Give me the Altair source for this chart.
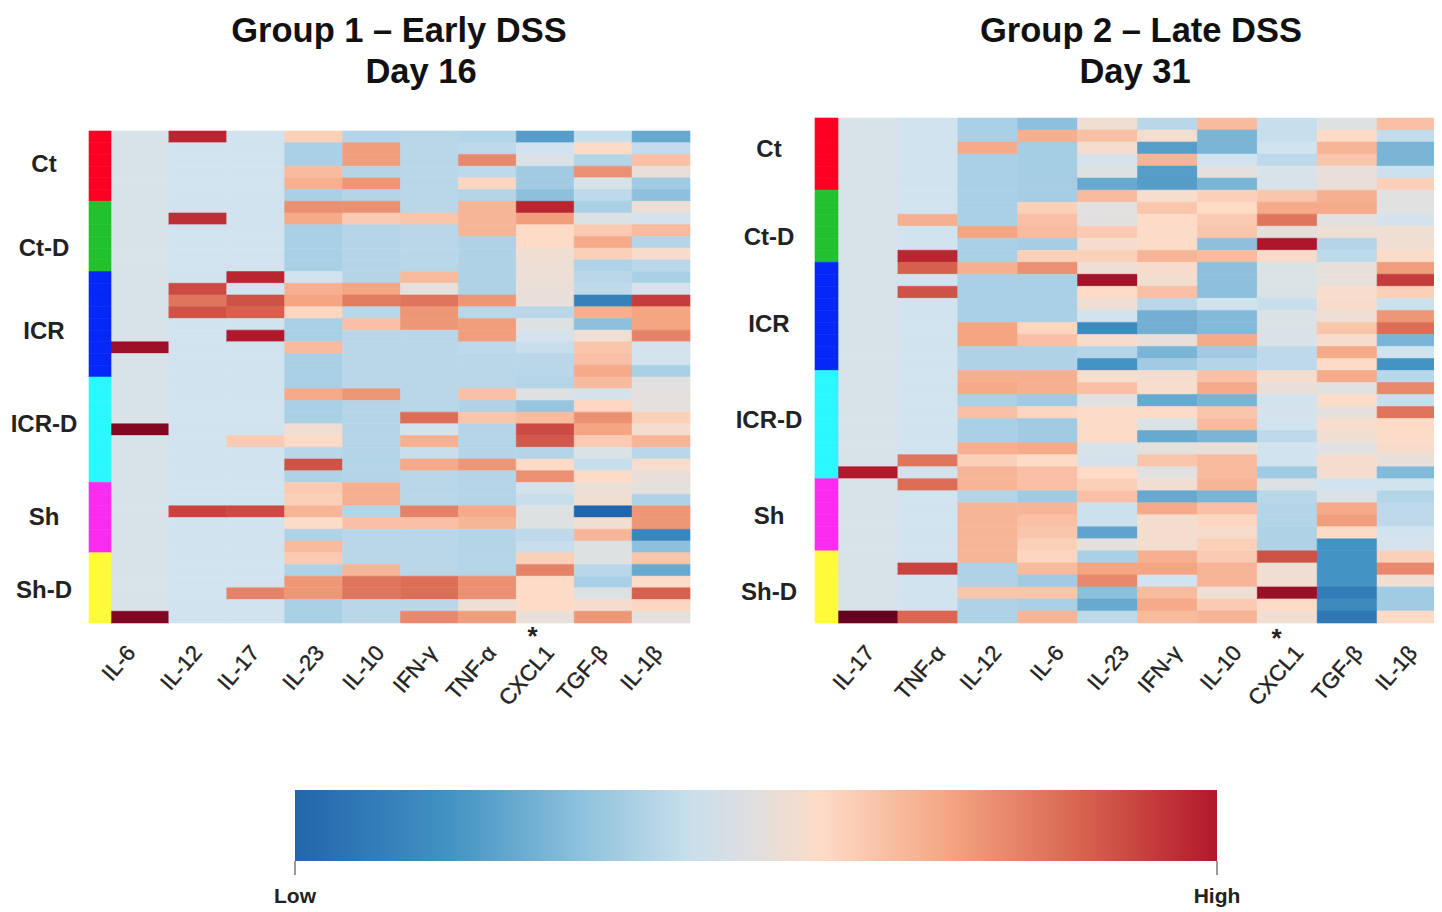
import altair as alt
import pandas as pd

GROUPS = ["Ct", "Ct-D", "ICR", "ICR-D", "Sh", "Sh-D"]
GROUP_SIZES = [6, 6, 9, 9, 6, 6]
GROUP_COLORS = ["#fe0023", "#22c12f", "#0527f8", "#29f8ff", "#fb2bef", "#fffb38"]

# ---- Group 1 (left panel); each list holds 42 rows top to bottom
L_COLS = ["IL-6", "IL-12", "IL-17", "IL-23", "IL-10", "IFN-γ", "TNF-α", "CXCL1", "TGF-β", "IL-1β"]
L_IL6 = [-.7,-.7,-.7,-.7,-.7,-.7, -.7,-.7,-.7,-.7,-.7,-.7, -.7,-.7,-.7,-.7,-.7,-.7,4.5,-.7,-.7,
         -.7,-.7,-.7,-.7,5,-.7,-.7,-.7,-.7, -.7,-.7,-.7,-.7,-.7,-.7, -.7,-.7,-.7,-.7,-.7,5]
L_IL12 = [3.8,-1,-1,-1,-1,-1, -1,3.7,-1,-1,-1,-1, -1,3.3,2.7,3.2,-1,-1,-1,-1,-1,
          -1,-1,-1,-1,-1,-1,-1,-1,-1, -1,-1,3.4,-1,-1,-1, -1,-1,-1,-1,-1,-1]
L_IL17 = [-1,-1,-1,-1,-1,-1, -1,-1,-1,-1,-1,-1, 3.8,-1,3.2,3,-1,4,-1,-1,-1,
          -1,-1,-1,-1,-1,1.3,-1,-1,-1, -1,-1,3.3,-1,-1,-1, -1,-1,-1,2.5,-1,-1]
L_IL23 = [1.2,-1.8,-1.8,1.6,1.8,-1.8, 2.3,1.9,-1.8,-1.8,-1.8,-1.8, -1,1.8,2.0,1.1,-1.8,-1.8,1.6,-1.8,-1.8,
          -1.8,1.9,-1.8,-1.8,.5,1,-1.5,3.2,-1.7, 1.3,1.2,1.7,.9,-1.7,1.6, 1.3,-1.7,2.2,2.2,-1.8,-1.8]
L_IL10 = [-1.6,2.1,2.1,-1.6,2.2,-1.6, 2.3,1.3,-1.6,-1.6,-1.6,-1.6, -1.6,2,2.6,-1.5,1.5,-1.5,-1.5,-1.5,-1.5,
          -1.5,2.2,-1.6,-1.6,-1.6,-1.6,-1.6,-1.6,-1.6, 1.8,1.8,-1.6,1.5,-1.5,-1.5, -1.5,1.7,2.7,2.7,-1.5,-1.5]
L_IFN = [-1.5,-1.5,-1.5,-1.5,-1.5,-1.5, -1.5,1.4,-1.5,-1.5,-1.5,-1.5, 1.6,0,2.7,2.2,2.2,-1.5,-1.5,-1.5,-1.5,
         -1.5,-1.5,-1.5,2.8,-1,1.8,-1.2,1.9,-1.5, -1.5,-1.5,2.5,1.5,-1.5,-1.5, -1.5,-1.5,2.8,2.8,-1.5,2.4]
L_TNF = [-1.6,-1.4,2.4,-1.4,1.1,-1.6, 1.7,1.7,1.7,-1.7,-1.7,-1.7, -1.7,-1.7,2.2,-1.5,2.1,2.1,-1.4,-1.5,-1.5,
         -1.5,1.5,-1.7,1.4,-1.6,-1.6,-1.6,2.2,-1.6, -1.6,-1.6,1.9,1.7,-1.6,-1.6, -1.6,-1.6,2.3,2.3,.3,2.1]
L_CXCL1 = [-2.8,-1,-.5,-2,-2,-2.2, 3.8,2.1,1,1,.5,.3, .3,.2,.1,-1.5,-.3,-.8,-1.2,-1.5,-1.5,
           -1.6,-.3,-2.1,1.6,3.3,3.1,-1.6,1,2.3, -.8,-1.2,-.3,-.3,-1.4,-1.2, 1.2,2.5,1,1,1,.1]
L_TGF = [-1.2,1,-1.6,2.3,-.7,-1.4, -1.8,-.5,1.3,1.9,1.2,-1.7, -1.5,-1.4,-3.4,1.8,-2.2,.5,1.4,1.5,1.9,
         1.6,-.8,1.1,2.3,2,1.3,-.5,-1.2,1, .3,.5,-4,.5,1.7,-.3, -.3,-1.5,-1.8,-.4,.6,2.2]
L_IL1B = [-2.6,-1.3,1.5,.2,-2,-2.2, .3,-.8,1.6,-1.6,.8,-1.5, -1.8,-.8,3.5,2,2,2.5,-.8,-.9,-1.8,
          -.2,0,0,1.2,.6,1.7,-1.5,.7,.2, 0,-1.7,2.2,2.2,-3.3,-2.2, 1.4,-2.6,1,3,1.1,0]
L_DATA = [L_IL6, L_IL12, L_IL17, L_IL23, L_IL10, L_IFN, L_TNF, L_CXCL1, L_TGF, L_IL1B]
L_TICK_POS = [.35, 1.5, 2.49, 3.61, 4.65, 5.56, 6.58, 7.58, 8.51, 9.45]
L_GROUP_POS = [2.9, 10.1, 17.2, 25.1, 33.0, 39.3]
L_TITLE_X = [391, 413]

# ---- Group 2 (right panel)
R_COLS = ["IL-17", "TNF-α", "IL-12", "IL-6", "IL-23", "IFN-γ", "IL-10", "CXCL1", "TGF-β", "IL-1β"]
R_IL17 = [-.7,-.7,-.7,-.7,-.7,-.7, -.7,-.7,-.7,-.7,-.7,-.7, -.7,-.7,-.7,-.7,-.7,-.7,-.7,-.7,-.7,
          -.7,-.7,-.7,-.7,-.7,-.7,-.7,-.7,4, -.7,-.7,-.7,-.7,-.7,-.7, -.7,-.7,-.7,-.7,-.7,5.5]
R_TNF = [-1,-1,-1,-1,-1,-1, -1,-1,1.8,-1,-1,3.8, 3,-1,3.2,-1,-1,-1,-1,-1,-1,
         -1,-1,-1,-1,-1,-1,-1,2.7,-.8, 2.8,-1,-1,-1,-1,-1, -1,3.4,-1,-1,-1,2.9]
R_IL12 = [-1.8,-1.8,1.9,-1.8,-1.8,-1.8, -1.8,-1.8,-1.8,2,-1.8,-1.8, 1.8,-1.8,-1.8,-1.8,-1.8,2,2,-1.7,-1.7,
          1.8,1.9,-1.8,1.5,-1.8,-1.8,1.8,1.2,1.7, 1.7,-1.6,1.7,1.7,1.7,1.7, 1.7,-1.7,-1.7,1.4,-1.7,-1.7]
R_IL6 = [-2.2,1.8,-1.9,-1.9,-1.9,-1.9, -1.9,1.2,1.5,1.6,-1.9,1.2, 2.3,-1.8,-1.8,-1.8,-1.8,1.1,1.5,-1.7,-1.7,
         1.8,1.8,-2,1.1,-2,-2,1.9,1,1.5, 1.5,-2,1.7,1.5,1.4,1.2, 1.1,1.6,-2,1.4,-1.8,1.7]
R_IL23 = [.5,1.5,.6,-.8,-.3,-2.6, 1.6,-.2,-.1,1.3,.6,1.2, .4,4.3,1,.4,-1,-3.2,.8,-1.6,-3,
          .7,1.5,-.2,.9,.9,.9,-.7,-.8,1, 1.2,1.5,-1.1,-1.1,-2.7,0, -1.8,2,2.4,-2.2,-2.6,-1.4]
R_IFN = [-1.5,.6,-2.8,1.7,-2.8,-2.8, .7,1.4,1,.9,.9,1.7, .8,.6,1.5,-1.5,-2.5,-2.5,.2,-2.4,-2,
         .6,.7,-2.6,.9,-.5,-2.6,0,1.4,-.2, .5,-2.6,1.9,.6,.6,.6, 1.8,2,-1,1.6,1.9,1.6]
R_IL10 = [1.6,-2.4,-2.4,-1,0,-2.4, 1.2,1,1.3,1.4,-2.2,1.6, -2.2,-2.2,-2.2,-1,-2.3,-2.3,1.9,-2,-1.6,
          1.5,1.9,-2.4,1.4,1.6,-2.4,.2,1.6,1.6, 1.7,-2.4,1.5,1.1,.8,1.2, 1.3,1.7,1.7,.4,1.3,1.7]
R_CXCL1 = [-1.2,-1.2,-1,-1.4,-.7,-.7, 1.4,1.9,2.7,0,4.1,.8, -.5,-.5,-.5,-1.2,-.5,-.5,-.6,-1.4,-1.4,
           .6,.2,-.9,-.8,-1,-1.4,-1,-1,-2, -.4,-1.5,-1.6,-1.6,-1.7,-1.7, 3.2,.5,.5,4.5,1,.5]
R_TGF = [-.3,1,1.7,1.4,.2,.2, 1.8,1.9,-.2,.4,-1.6,-1.4, .1,.1,.7,.8,.4,1.4,.8,1.9,1,
         1.9,-.2,.9,0,.7,.5,-.2,.6,.6, -1,-.5,1.9,2.1,1,-3, -3,-3,-3,-3.5,-3.2,-3.6]
R_IL1B = [1.5,-1.3,-2.4,-2.4,-1.1,1.2, -.2,-.2,-.8,.4,.5,.9, 2.1,3.5,1.2,-1.1,2.2,2.8,-2.4,-1,-3,
          -1.5,2.4,-1.2,2.7,1,.9,.8,.1,-2.3, -1,-1.6,-1.4,-1.4,-1,-.8, 1.2,2.4,.5,-2,-2,1]
R_DATA = [R_IL17, R_TNF, R_IL12, R_IL6, R_IL23, R_IFN, R_IL10, R_CXCL1, R_TGF, R_IL1B]
R_TICK_POS = [.54, 1.72, 2.66, 3.7, 4.79, 5.67, 6.67, 7.7, 8.69, 9.6]
R_GROUP_POS = [2.7, 9.95, 17.2, 25.2, 33.2, 39.5]
R_TITLE_X = [1133, 1127]

VALUE_STOPS = [-4, -3, -2, -1, 0, 1, 2, 3, 4, 5.5]
COLOR_STOPS = ["#2166ac", "#4393c3", "#a0cbe2", "#d1e3ef", "#e4e0dc", "#fddbc7", "#f4a582", "#d6604d", "#b2182b", "#67001f"]

FONT = "Liberation Sans"
SEAM_WIDTH = 0.6
PAGE_W, PAGE_H = 1426, 899


def panel(cols, data, tick_pos, group_pos, title, title_x, xr, yr, bar_r, group_x, star_pos, tick_y, star_y):
    rows = []
    row_group = [g for g, n in zip(GROUPS, GROUP_SIZES) for _ in range(n)]
    for c, vals in zip(cols, data):
        assert len(vals) == 42, c
        for i, v in enumerate(vals):
            rows.append({"col": c, "row": i, "v": v})
    heat_df = pd.DataFrame(rows)
    ann_df = pd.DataFrame({"row": list(range(42)), "group": row_group})
    row_order = list(range(42))
    x_s = alt.Scale(domain=cols, range=xr)
    y_s = alt.Scale(domain=row_order, range=yr)
    col_s = alt.Scale(domain=VALUE_STOPS, range=COLOR_STOPS, interpolate="rgb")
    grp_s = alt.Scale(domain=GROUPS, range=GROUP_COLORS)

    heat = alt.Chart(heat_df).mark_rect(strokeWidth=SEAM_WIDTH).encode(
        x=alt.X("col:N", scale=x_s, axis=None, sort=cols),
        y=alt.Y("row:O", scale=y_s, axis=None, sort=row_order),
        color=alt.Color("v:Q", scale=col_s, legend=None),
        stroke=alt.Stroke("v:Q", scale=col_s, legend=None),
    )
    bar = alt.Chart(ann_df).mark_rect(strokeWidth=SEAM_WIDTH).encode(
        x=alt.value(bar_r[0]), x2=alt.value(bar_r[1]),
        y=alt.Y("row:O", scale=y_s, axis=None, sort=row_order),
        color=alt.Color("group:N", scale=grp_s, legend=None),
        stroke=alt.Stroke("group:N", scale=grp_s, legend=None),
    )
    group_df = pd.DataFrame({"g": GROUPS, "p": group_pos})
    group_text = alt.Chart(group_df).mark_text(
        font=FONT, fontWeight="bold", fontSize=24, color="#222222", align="center", baseline="middle"
    ).encode(
        x=alt.value(group_x),
        y=alt.Y("p:Q", scale=alt.Scale(domain=[0, 42], range=yr), axis=None),
        text="g:N",
    )
    tick_df = pd.DataFrame({"t": cols, "p": tick_pos})
    x_q = alt.Scale(domain=[0, 10], range=xr)
    tick_text = alt.Chart(tick_df).mark_text(
        font=FONT, fontSize=22, color="#222222", stroke="#222222", strokeWidth=0.4,
        angle=311, align="right", baseline="middle"
    ).encode(
        x=alt.X("p:Q", scale=x_q, axis=None),
        y=alt.value(tick_y),
        text="t:N",
    )
    star = alt.Chart(pd.DataFrame({"s": ["*"], "p": [star_pos]})).mark_text(
        font=FONT, fontSize=26, fontWeight="bold", color="#222222", align="center", baseline="middle"
    ).encode(x=alt.X("p:Q", scale=x_q, axis=None), y=alt.value(star_y), text="s:N")
    titles = alt.Chart(pd.DataFrame({"t": title, "r": [0, 1], "x": title_x})).mark_text(
        font=FONT, fontSize=34.5, fontWeight="bold", color="#111111", align="center", baseline="middle"
    ).encode(
        x=alt.X("x:Q", scale=alt.Scale(domain=[0, PAGE_W], range=[0, PAGE_W]), axis=None),
        y=alt.Y("r:Q", scale=alt.Scale(domain=[0, 1], range=[24, 65]), axis=None),
        text="t:N",
    )
    return [heat, bar, group_text, tick_text, star, titles]


left = panel(L_COLS, L_DATA, L_TICK_POS, L_GROUP_POS, ["Group 1 – Early DSS", "Day 16"], L_TITLE_X,
             [103, 682], [123, 615], [81, 103], 36, 7.28, 641, 629)
right = panel(R_COLS, R_DATA, R_TICK_POS, R_GROUP_POS, ["Group 2 – Late DSS", "Day 31"], R_TITLE_X,
              [830, 1429], [110, 615], [807, 830], 761, 7.32, 641, 631)

# ---- colour key
KEY_LABELS = ["Low", "High"]
KEY_STOPS = [(0, "#2166ac"), (.17, "#4393c3"), (.32, "#92c5de"), (.43, "#c9dfeb"), (.5, "#e0dfde"),
             (.57, "#fddbc7"), (.71, "#f4a582"), (.86, "#d6604d"), (1, "#b2182b")]
key_grad = alt.Gradient(gradient="linear", x1=0, x2=1, y1=0, y2=0,
                        stops=[alt.GradientStop(offset=o, color=c) for o, c in KEY_STOPS])
key_df = pd.DataFrame({"label": KEY_LABELS})
key_x = alt.Scale(type="point", domain=KEY_LABELS, range=[287, 1209], padding=0)
key_rect = alt.Chart(key_df.head(1)).mark_rect(color=key_grad).encode(
    x=alt.value(287), x2=alt.value(1209), y=alt.value(782), y2=alt.value(853)
)
key_tick = alt.Chart(key_df).mark_rule(color="#555555", strokeWidth=1.2).encode(
    x=alt.X("label:O", scale=key_x, axis=None, sort=KEY_LABELS), y=alt.value(853), y2=alt.value(867)
)
key_text = alt.Chart(key_df).mark_text(
    font=FONT, fontSize=21, fontWeight="bold", color="#222222", align="center", baseline="middle"
).encode(
    x=alt.X("label:O", scale=key_x, axis=None, sort=KEY_LABELS), y=alt.value(889), text="label:N"
)

chart = alt.layer(*left, *right, key_rect, key_tick, key_text).resolve_scale(
    x="independent", y="independent", color="independent", stroke="independent"
).properties(
    width=PAGE_W, height=PAGE_H, padding=0, autosize=alt.AutoSizeParams(type="none"),
    background="white",
).configure_view(stroke=None)

chart.save("out.html", embed_options={"renderer": "svg", "actions": False})
